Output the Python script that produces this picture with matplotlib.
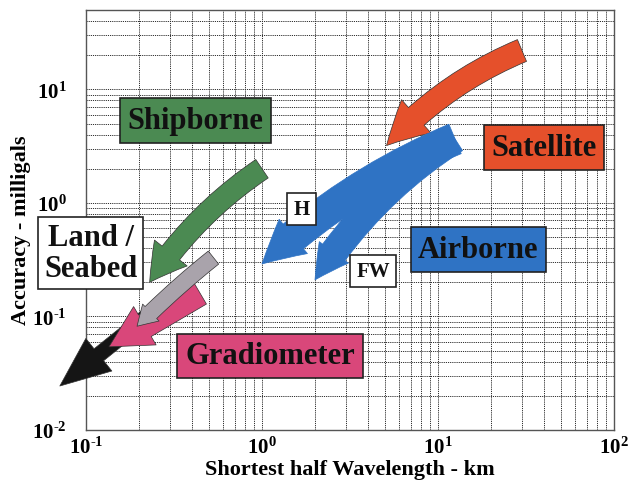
import math

import matplotlib.pyplot as plt
from matplotlib.patches import FancyArrowPatch, ArrowStyle
from matplotlib.ticker import FixedLocator, FuncFormatter, LogLocator, NullFormatter

plt.rcParams.update(
    {
        "font.family": "Liberation Serif",
        "font.weight": "bold",
        "axes.labelweight": "bold",
        "mathtext.fontset": "custom",
        "mathtext.rm": "Liberation Serif:bold",
        "mathtext.it": "Liberation Serif:bold",
        "mathtext.bf": "Liberation Serif:bold",
    }
)

# each survey method drawn as an arrow from its longest/poorest end (tail)
# to its shortest wavelength / best accuracy (head)
methods = ["Satellite", "Airborne H", "Airborne FW", "Shipborne", "Land / Seabed", "Gradiometer", "Borehole"]
tail_km = [30.0, 12.5, 12.5, 1.0, 0.53, 0.445, 0.23]
tail_mgal = [22.0, 3.66, 3.66, 2.0, 0.33, 0.16, 0.105]
head_km = [5.1, 1.0, 2.0, 0.23, 0.195, 0.135, 0.071]
head_mgal = [3.2, 0.29, 0.21, 0.20, 0.082, 0.054, 0.0244]

x_decades = [0.1, 1, 10, 100]
y_decades = [0.01, 0.1, 1, 10]

RED = "#e5502b"
BLUE = "#2f73c4"
GREEN = "#4b8a52"
GRAY = "#a9a3ab"
PINK = "#d9477a"
BLACK = "#151515"

# drawing order (back to front) and look of each arrow
styles = {
    "Borehole": dict(color=BLACK, tail=11, hw=30, hl=36, rad=0.0),
    "Gradiometer": dict(color=PINK, tail=18, hw=32, hl=30, rad=0.0),
    "Land / Seabed": dict(color=GRAY, tail=12, hw=17, hl=14, rad=0.03),
    "Shipborne": dict(color=GREEN, tail=16, hw=30, hl=26, rad=0.1),
    "Satellite": dict(color=RED, tail=17, hw=32, hl=30, rad=0.11),
    "Airborne FW": dict(color=BLUE, tail=20, hw=26, hl=24, rad=0.11),
    "Airborne H": dict(color=BLUE, tail=23, hw=32, hl=30, rad=0.09),
}


def decade_label(v, _):
    p = round(math.log10(v))
    exp = r"\text{-}%d" % -p if p < 0 else "%d" % p
    return r"$10^{%s}$" % exp


fig = plt.figure(figsize=(6.31, 4.85), dpi=100)
ax = fig.add_axes([86 / 631, 54 / 485, 528 / 631, 420 / 485])
ax.set_xscale("log")
ax.set_yscale("log")
ax.set_xlim(0.1, 100)
ax.set_ylim(0.01, 50)

ax.xaxis.set_major_locator(FixedLocator(x_decades))
ax.yaxis.set_major_locator(FixedLocator(y_decades))
ax.xaxis.set_major_formatter(FuncFormatter(decade_label))
ax.yaxis.set_major_formatter(FuncFormatter(decade_label))
for axis in (ax.xaxis, ax.yaxis):
    axis.set_minor_locator(LogLocator(base=10, subs=range(2, 10)))
    axis.set_minor_formatter(NullFormatter())
ax.tick_params(which="both", length=0, labelsize=15)
ax.tick_params(axis="x", pad=5)
ax.tick_params(axis="y", pad=14)
ax.grid(which="both", color="#2e2e2e", linestyle=(0, (1.2, 1)), linewidth=0.7)
for side in ax.spines.values():
    side.set_color("#555555")
    side.set_linewidth(1.0)

ax.set_xlabel("Shortest half Wavelength - km", fontsize=16)
ax.set_ylabel("Accuracy - milligals", fontsize=16)
ax.xaxis.set_label_coords(0.5, (485 - 460 - 54) / 420)
ax.yaxis.set_label_coords((31 - 86) / 528, (485 - 230 - 54) / 420)

for name in styles:
    i = methods.index(name)
    st = styles[name]
    # the two airborne branches share one body, so no seam between them
    edge = BLUE if name.startswith("Airborne") else "#333333"
    arrow = FancyArrowPatch(
        (tail_km[i], tail_mgal[i]),
        (head_km[i], head_mgal[i]),
        arrowstyle=ArrowStyle.Simple(head_length=st["hl"], head_width=st["hw"], tail_width=st["tail"]),
        connectionstyle=f"arc3,rad={st['rad']}",
        mutation_scale=1,
        shrinkA=0,
        shrinkB=0,
        facecolor=st["color"],
        edgecolor=edge,
        linewidth=0.5,
        clip_on=False,
        zorder=3,
    )
    ax.add_patch(arrow)


def label(text, px, py, face, size=22, pad=0.25):
    fig.text(px / 631, 1 - py / 485, text, ha="center", va="center", fontsize=size,
             fontweight="bold", color="#111111", linespacing=1.1, zorder=5,
             bbox=dict(boxstyle=f"square,pad={pad}", facecolor=face, edgecolor="#222222", linewidth=1.2))


label("Shipborne", 195.5, 121.5, GREEN)
label("Satellite", 544, 148.5, RED)
label("Airborne", 478.5, 250.5, BLUE)
label("Land /\nSeabed", 90.5, 254, "white", pad=0.2)
label("Gradiometer", 270, 357, PINK)
label("H", 301.5, 210, "white", size=15, pad=0.3)
label("FW", 373, 272, "white", size=15, pad=0.3)

fig.savefig("out.png", dpi=100)
